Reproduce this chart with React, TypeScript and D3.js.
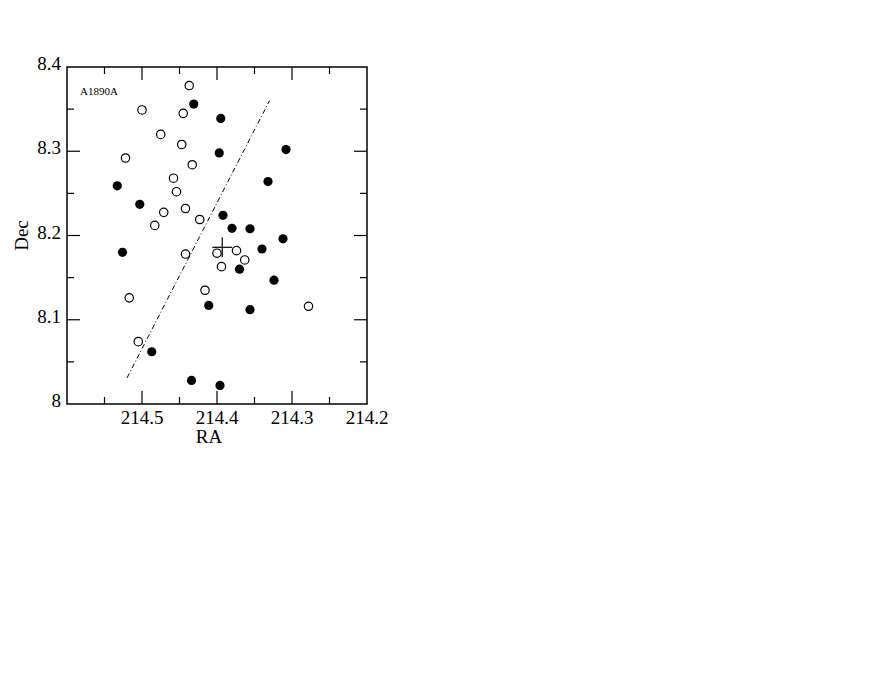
import { useEffect, useRef } from "react";
import * as d3 from "d3";

// open circles: [RA, Dec]
const openRA = [214.437, 214.5, 214.445, 214.475, 214.447, 214.522, 214.433, 214.458, 214.454, 214.471, 214.442, 214.483, 214.423, 214.442, 214.4, 214.374, 214.363, 214.394, 214.416, 214.517, 214.278, 214.505];
const openDec = [8.378, 8.349, 8.345, 8.32, 8.308, 8.292, 8.284, 8.268, 8.252, 8.2275, 8.232, 8.212, 8.219, 8.178, 8.179, 8.182, 8.171, 8.163, 8.135, 8.126, 8.116, 8.074];

// filled circles
const filledRA = [214.431, 214.395, 214.397, 214.308, 214.533, 214.332, 214.503, 214.392, 214.38, 214.356, 214.526, 214.312, 214.34, 214.37, 214.324, 214.411, 214.356, 214.487, 214.434, 214.396];
const filledDec = [8.356, 8.339, 8.298, 8.302, 8.259, 8.264, 8.237, 8.224, 8.2085, 8.208, 8.18, 8.196, 8.184, 8.16, 8.147, 8.117, 8.112, 8.062, 8.028, 8.022];

// dash-dot line ends and centre cross
const lineRA = [214.52, 214.33];
const lineDec = [8.031, 8.36];
const centreRA = 214.393;
const centreDec = 8.186;

const xTicks = [214.5, 214.4, 214.3, 214.2];
const yTicks = [8, 8.1, 8.2, 8.3, 8.4];
const clusterName = "A1890A";

function App() {
  const ref = useRef<SVGSVGElement>(null);

  useEffect(() => {
    const width = 872;
    const height = 674;
    const margin = { top: 67, left: 67, right: 505, bottom: 270 };
    const innerW = width - margin.left - margin.right;
    const innerH = height - margin.top - margin.bottom;
    const font = "'Liberation Serif', 'Times New Roman', serif";

    const svg = d3.select(ref.current);
    svg.selectAll("*").remove();

    const g = svg.append("g").attr("transform", `translate(${margin.left},${margin.top})`);

    const x = d3.scaleLinear().domain([214.6, 214.2]).range([0, innerW]);
    const y = d3.scaleLinear().domain([8, 8.4]).range([innerH, 0]);

    const minorX = d3.range(0, 8).map(i => 214.55 - i * 0.05).filter(v => v > 214.2 + 1e-6);
    const minorY = d3.range(1, 8).map(i => 8 + i * 0.05);
    const major = 13;
    const minor = 7;

    const ticks = g.append("g").attr("stroke", "#000").attr("stroke-width", 1.2);
    minorX.forEach(v => {
      const isMajor = xTicks.some(t => Math.abs(t - v) < 1e-6);
      const len = isMajor ? major : minor;
      ticks.append("line").attr("x1", x(v)).attr("x2", x(v)).attr("y1", innerH).attr("y2", innerH - len);
      ticks.append("line").attr("x1", x(v)).attr("x2", x(v)).attr("y1", 0).attr("y2", len);
    });
    minorY.forEach(v => {
      const isMajor = yTicks.some(t => Math.abs(t - v) < 1e-6);
      const len = isMajor ? major : minor;
      ticks.append("line").attr("y1", y(v)).attr("y2", y(v)).attr("x1", 0).attr("x2", len);
      ticks.append("line").attr("y1", y(v)).attr("y2", y(v)).attr("x1", innerW).attr("x2", innerW - len);
    });

    g.append("rect")
      .attr("width", innerW)
      .attr("height", innerH)
      .attr("fill", "none")
      .attr("stroke", "#000")
      .attr("stroke-width", 1.5);

    g.selectAll(".xl")
      .data(xTicks)
      .join("text")
      .attr("x", d => x(d))
      .attr("y", innerH + 20)
      .attr("text-anchor", "middle")
      .attr("font-family", font)
      .attr("font-size", 19)
      .text(d => d3.format(".1f")(d));

    g.selectAll(".yl")
      .data(yTicks)
      .join("text")
      .attr("x", -6)
      .attr("y", d => y(d) + 3)
      .attr("text-anchor", "end")
      .attr("font-family", font)
      .attr("font-size", 19)
      .text(d => (d === 8 ? "8" : d3.format(".1f")(d)));

    g.append("text")
      .attr("x", innerW / 2 - 8)
      .attr("y", innerH + 39)
      .attr("text-anchor", "middle")
      .attr("font-family", font)
      .attr("font-size", 19)
      .text("RA");

    g.append("text")
      .attr("transform", `translate(-39,${y(8.2)}) rotate(-90)`)
      .attr("text-anchor", "middle")
      .attr("font-family", font)
      .attr("font-size", 19)
      .text("Dec");

    g.append("text")
      .attr("x", 13)
      .attr("y", 28)
      .attr("font-family", font)
      .attr("font-size", 11)
      .text(clusterName);

    const line = d3.line<number>()
      .x((_, i) => x(lineRA[i]))
      .y((_, i) => y(lineDec[i]));
    g.append("path")
      .attr("d", line(lineRA))
      .attr("fill", "none")
      .attr("stroke", "#000")
      .attr("stroke-width", 1)
      .attr("stroke-dasharray", "5,2.5,1,2.5");

    const cx = x(centreRA);
    const cy = y(centreDec);
    g.append("line").attr("x1", cx - 10).attr("x2", cx + 10).attr("y1", cy).attr("y2", cy).attr("stroke", "#000").attr("stroke-width", 1.2);
    g.append("line").attr("x1", cx).attr("x2", cx).attr("y1", cy - 10).attr("y2", cy + 10).attr("stroke", "#000").attr("stroke-width", 1.2);

    g.selectAll(".open")
      .data(openRA)
      .join("circle")
      .attr("cx", d => x(d))
      .attr("cy", (_, i) => y(openDec[i]))
      .attr("r", 4.2)
      .attr("fill", "#fff")
      .attr("stroke", "#000")
      .attr("stroke-width", 1.2);

    g.selectAll(".filled")
      .data(filledRA)
      .join("circle")
      .attr("cx", d => x(d))
      .attr("cy", (_, i) => y(filledDec[i]))
      .attr("r", 4.6)
      .attr("fill", "#000");
  }, []);

  return (
    <svg
      ref={ref}
      width={872}
      height={674}
      style={{ position: "absolute", left: 0, top: 0, background: "#fff" }}
    />
  );
}

export default App;
